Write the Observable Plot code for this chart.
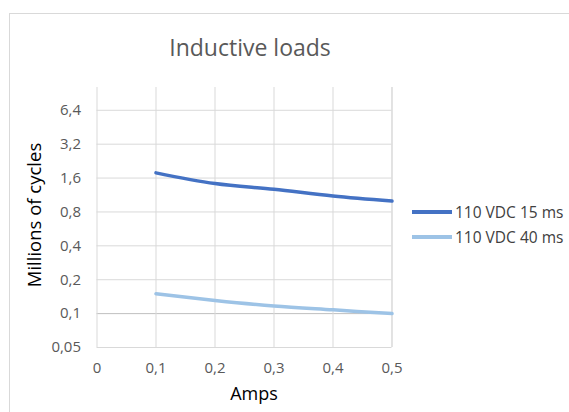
<!DOCTYPE html>
<html>
<head>
<meta charset="utf-8">
<script src="https://cdn.jsdelivr.net/npm/d3@7"></script>
<script src="https://cdn.jsdelivr.net/npm/@observablehq/plot@0.6"></script>
<style>
  body { margin: 0; background: #fff; font-family: "Open Sans", sans-serif; }
  #wrap { position: relative; width: 569px; height: 412px; overflow: hidden; }
  #frame { position: absolute; left: 9px; top: 13px; width: 600px; height: 420px; border: 1px solid #d9d9d9; box-sizing: border-box; }
  #title { position: absolute; left: 0; width: 500px; top: 31px; text-align: center; font-size: 23px; color: #595959; }
  #ylab { position: absolute; left: 33px; top: 215px; transform: translate(-50%, -50%) rotate(-90deg); font-size: 18.5px; color: #000; white-space: nowrap; }
  #xlab { position: absolute; left: 254px; top: 393px; transform: translate(-50%, -50%); font-size: 18px; color: #000; }
  #legend { position: absolute; left: 412px; top: 199px; font-size: 15.5px; color: #404040; }
  .item { display: flex; align-items: center; height: 25.5px; white-space: nowrap; }
  .sw { width: 40px; height: 4px; margin-right: 3px; }
  svg { position: absolute; left: 0; top: 0; }
</style>
</head>
<body>
<div id="wrap">
  <div id="frame"></div>
</div>
<script>
const amps = [0.1, 0.2, 0.3, 0.4, 0.5];
const series15 = [1.78, 1.43, 1.27, 1.11, 1.0];
const series40 = [0.150, 0.131, 0.117, 0.108, 0.100];
const seriesNames = ["110 VDC 15 ms", "110 VDC 40 ms"];
const seriesColors = ["#4472C4", "#9DC3E6"];
const yTicks = [0.05, 0.1, 0.2, 0.4, 0.8, 1.6, 3.2, 6.4];
const xTicks = [0, 0.1, 0.2, 0.3, 0.4, 0.5];

const data = [
  ...amps.map((a, i) => ({amps: a, value: series15[i], series: seriesNames[0]})),
  ...amps.map((a, i) => ({amps: a, value: series40[i], series: seriesNames[1]}))
];
const fmt = d => String(d).replace(".", ",");

const chart = Plot.plot({
  width: 569,
  height: 412,
  marginLeft: 96.5,
  marginRight: 177.5,
  marginTop: 87,
  marginBottom: 65,
  style: {fontFamily: "Open Sans, sans-serif", fontSize: "15px", color: "#595959", background: "transparent"},
  x: {domain: [0, 0.5], ticks: xTicks, tickFormat: fmt, tickSize: 0, tickPadding: 15, label: null},
  y: {type: "log", base: 2, domain: [0.05, 10.2], ticks: yTicks, tickFormat: fmt, tickSize: 0, tickPadding: 16, label: null},
  color: {domain: seriesNames, range: seriesColors},
  marks: [
    Plot.gridY(yTicks, {stroke: d => d === 0.1 ? "#bfbfbf" : "#d9d9d9", strokeOpacity: 1, strokeWidth: 1}),
    Plot.gridX(xTicks, {stroke: "#d9d9d9", strokeOpacity: 1, strokeWidth: 1, y1: 0.05, y2: 10.2}),
    Plot.ruleX([0.5], {stroke: "#d9d9d9", y1: 0.05, y2: 10.2}),
    Plot.axisX({ticks: xTicks, tickFormat: fmt, tickSize: 0, tickPadding: 15, label: null, fill: "#595959"}),
    Plot.axisY({ticks: yTicks, tickFormat: fmt, tickSize: 0, tickPadding: 16, label: null, fill: "#595959"}),
    Plot.line(data, {x: "amps", y: "value", stroke: "series", strokeWidth: 3.5, curve: "catmull-rom"})
  ]
});
const wrap = document.getElementById("wrap");
wrap.appendChild(chart);

const title = document.createElement("div"); title.id = "title"; title.textContent = "Inductive loads"; wrap.appendChild(title);
const ylab = document.createElement("div"); ylab.id = "ylab"; ylab.textContent = "Millions of cycles"; wrap.appendChild(ylab);
const xlab = document.createElement("div"); xlab.id = "xlab"; xlab.textContent = "Amps"; wrap.appendChild(xlab);
const legend = document.createElement("div"); legend.id = "legend";
seriesNames.forEach((n, i) => {
  const it = document.createElement("div"); it.className = "item";
  const sw = document.createElement("div"); sw.className = "sw"; sw.style.background = seriesColors[i];
  const t = document.createElement("span"); t.textContent = n;
  it.appendChild(sw); it.appendChild(t); legend.appendChild(it);
});
wrap.appendChild(legend);
</script>
</body>
</html>
